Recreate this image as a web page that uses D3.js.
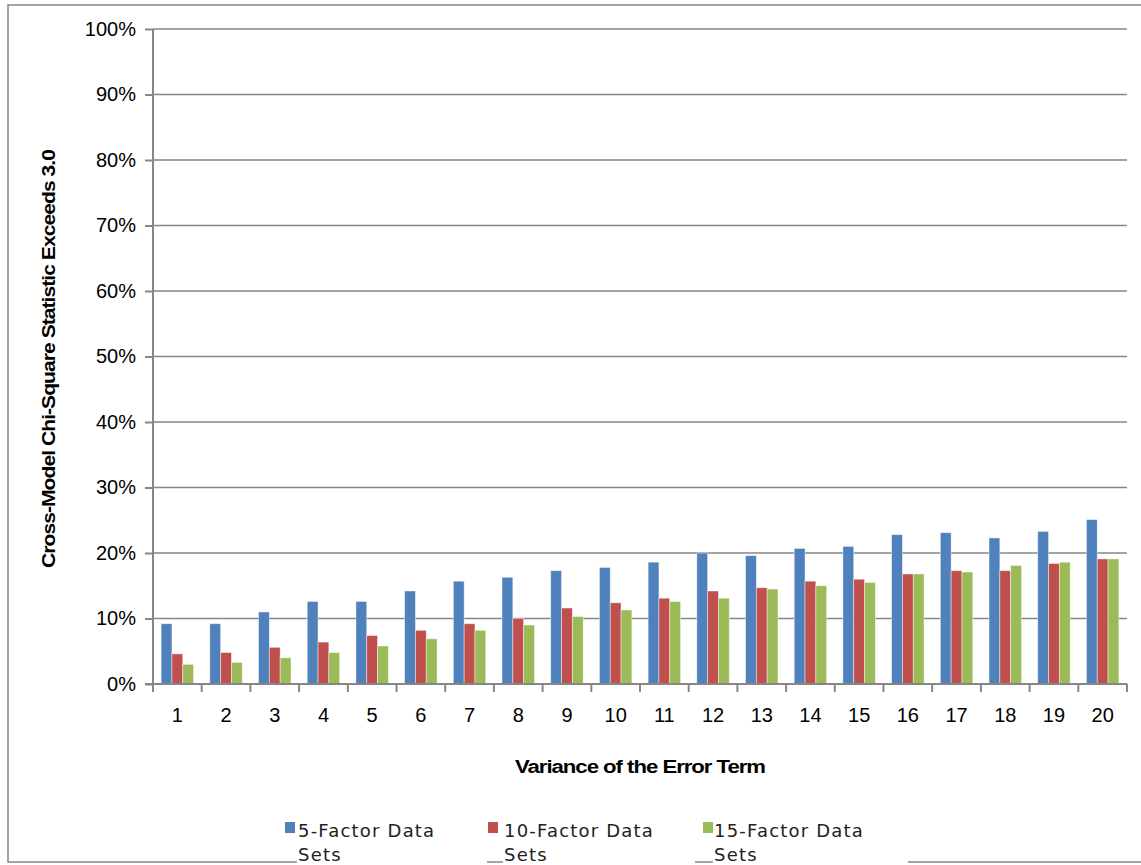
<!DOCTYPE html>
<html>
<head>
<meta charset="utf-8">
<script src="https://cdn.jsdelivr.net/npm/d3@7"></script>
<style>
  html, body { margin: 0; padding: 0; background: #fff; }
  svg { display: block; }
</style>
</head>
<body>
<svg id="chart" width="1141" height="865"></svg>
<script>
// Variance levels of the error term (x categories)
const categories = ["1","2","3","4","5","6","7","8","9","10","11","12","13","14","15","16","17","18","19","20"];
// Series names as shown in the legend
const seriesNames = ["5-Factor Data Sets", "10-Factor Data Sets", "15-Factor Data Sets"];
// Share of runs where the cross-model chi-square statistic exceeds 3.0
const factor5  = [0.092, 0.092, 0.110, 0.126, 0.126, 0.142, 0.157, 0.163, 0.173, 0.178, 0.186, 0.200, 0.196, 0.207, 0.210, 0.228, 0.231, 0.223, 0.233, 0.251];
const factor10 = [0.046, 0.048, 0.056, 0.064, 0.074, 0.082, 0.092, 0.100, 0.116, 0.124, 0.131, 0.142, 0.147, 0.157, 0.160, 0.168, 0.173, 0.173, 0.184, 0.191];
const factor15 = [0.030, 0.033, 0.040, 0.048, 0.058, 0.069, 0.082, 0.090, 0.103, 0.113, 0.126, 0.131, 0.145, 0.150, 0.155, 0.168, 0.171, 0.181, 0.186, 0.191];
const yTicks = [0, 0.1, 0.2, 0.3, 0.4, 0.5, 0.6, 0.7, 0.8, 0.9, 1.0];
const colors = ["#4F81BD", "#C0504D", "#9BBB59"];

const seriesValues = [factor5, factor10, factor15];
const rows = categories.map((c, i) => ({ cat: c, vals: seriesValues.map(s => s[i]) }));

const svg = d3.select("#chart");
const axisColor = "#868686";
const plotLeft = 153, plotRight = 1127, plotTop = 29, plotBottom = 684;

// Chart area border
svg.append("rect")
  .attr("x", 8).attr("y", 5)
  .attr("width", 1150).attr("height", 857)
  .attr("fill", "#fff")
  .attr("stroke", axisColor).attr("stroke-width", 1.5);

const x = d3.scaleBand().domain(categories).range([plotLeft, plotRight]).paddingInner(0).paddingOuter(0);
const xs = d3.scaleBand().domain(d3.range(seriesNames.length)).range([0, x.bandwidth()]).paddingInner(0).paddingOuter(0.75);
const y = d3.scaleLinear().domain([0, 1]).range([plotBottom, plotTop]);

// Horizontal gridlines
svg.append("g")
  .selectAll("line")
  .data(yTicks.filter(t => t > 0))
  .join("line")
  .attr("x1", plotLeft).attr("x2", plotRight)
  .attr("y1", d => y(d)).attr("y2", d => y(d))
  .attr("stroke", axisColor).attr("stroke-width", 1.5);

// Bars
const groups = svg.append("g")
  .selectAll("g")
  .data(rows)
  .join("g")
  .attr("transform", d => `translate(${x(d.cat)},0)`);

groups.selectAll("rect")
  .data(d => d.vals.map((v, i) => ({ v, i })))
  .join("rect")
  .attr("x", d => xs(d.i))
  .attr("width", xs.bandwidth())
  .attr("y", d => y(d.v))
  .attr("height", d => y(0) - y(d.v))
  .attr("fill", d => colors[d.i])
  .attr("stroke", "rgba(255,255,255,0.55)")
  .attr("stroke-width", 0.8);

// Y axis
const yAxis = d3.axisLeft(y)
  .tickValues(yTicks)
  .tickFormat(d3.format(".0%"))
  .tickSize(8)
  .tickPadding(9);
const gy = svg.append("g").attr("transform", `translate(${plotLeft},0)`).call(yAxis);
gy.select(".domain").attr("stroke", axisColor).attr("stroke-width", 2)
  .attr("d", `M0,${plotTop}V${plotBottom + 8}`);
gy.selectAll(".tick line").attr("stroke", axisColor).attr("stroke-width", 2);
gy.selectAll(".tick text")
  .attr("fill", "#000")
  .style("font-family", "'Liberation Sans', Arial, sans-serif")
  .style("font-size", "20px");

// X axis
const xAxis = d3.axisBottom(x).tickSize(0).tickPadding(24);
const gx = svg.append("g").attr("transform", `translate(0,${plotBottom})`).call(xAxis);
gx.select(".domain").attr("stroke", axisColor).attr("stroke-width", 2)
  .attr("d", `M${plotLeft - 8},0H${plotRight}`);
gx.selectAll(".tick text")
  .attr("fill", "#000")
  .style("font-family", "'Liberation Sans', Arial, sans-serif")
  .style("font-size", "20px");
// Category boundary tick marks
gx.append("g")
  .selectAll("line")
  .data(categories.map(c => x(c)).concat([plotRight]))
  .join("line")
  .attr("x1", d => d).attr("x2", d => d)
  .attr("y1", 0).attr("y2", 8)
  .attr("stroke", axisColor).attr("stroke-width", 2);

// Axis titles
svg.append("text")
  .attr("x", 640).attr("y", 773)
  .attr("text-anchor", "middle")
  .attr("textLength", 250)
  .attr("lengthAdjust", "spacingAndGlyphs")
  .style("font-family", "'Liberation Sans', Arial, sans-serif")
  .style("font-weight", "bold")
  .style("font-size", "17.5px")
  .style("letter-spacing", "-0.8px")
  .text("Variance of the Error Term");

svg.append("text")
  .attr("transform", "translate(55,359) rotate(-90)")
  .attr("text-anchor", "middle")
  .attr("textLength", 418)
  .attr("lengthAdjust", "spacingAndGlyphs")
  .style("font-family", "'Liberation Sans', Arial, sans-serif")
  .style("font-weight", "bold")
  .style("font-size", "17.5px")
  .style("letter-spacing", "-0.8px")
  .text("Cross-Model Chi-Square Statistic Exceeds 3.0");

// Legend: square swatch, wrapped label on a white box that sits on the border
const legendItems = [
  { sx: 285, tx: 297, w: 190 },
  { sx: 488, tx: 503, w: 192 },
  { sx: 703, tx: 713, w: 195 }
];
const lg = svg.append("g");
legendItems.forEach((it, i) => {
  const words = seriesNames[i].split(" ");
  const line1 = words.slice(0, 2).join(" ");
  const line2 = words.slice(2).join(" ");
  lg.append("rect")
    .attr("x", it.tx).attr("y", 815)
    .attr("width", it.w).attr("height", 60)
    .attr("fill", "#fff");
  lg.append("rect")
    .attr("x", it.sx).attr("y", 822)
    .attr("width", 10).attr("height", 11)
    .attr("fill", colors[i]);
  const t = lg.append("text")
    .attr("x", it.tx + 1).attr("y", 837)
    .attr("fill", "#222")
    .style("font-family", "'DejaVu Sans', sans-serif")
    .style("font-size", "18px")
    .style("letter-spacing", "1.2px");
  t.append("tspan").attr("x", it.tx + 1).attr("dy", 0).text(line1);
  t.append("tspan").attr("x", it.tx + 1).attr("dy", 24).text(line2);
});
</script>
</body>
</html>
